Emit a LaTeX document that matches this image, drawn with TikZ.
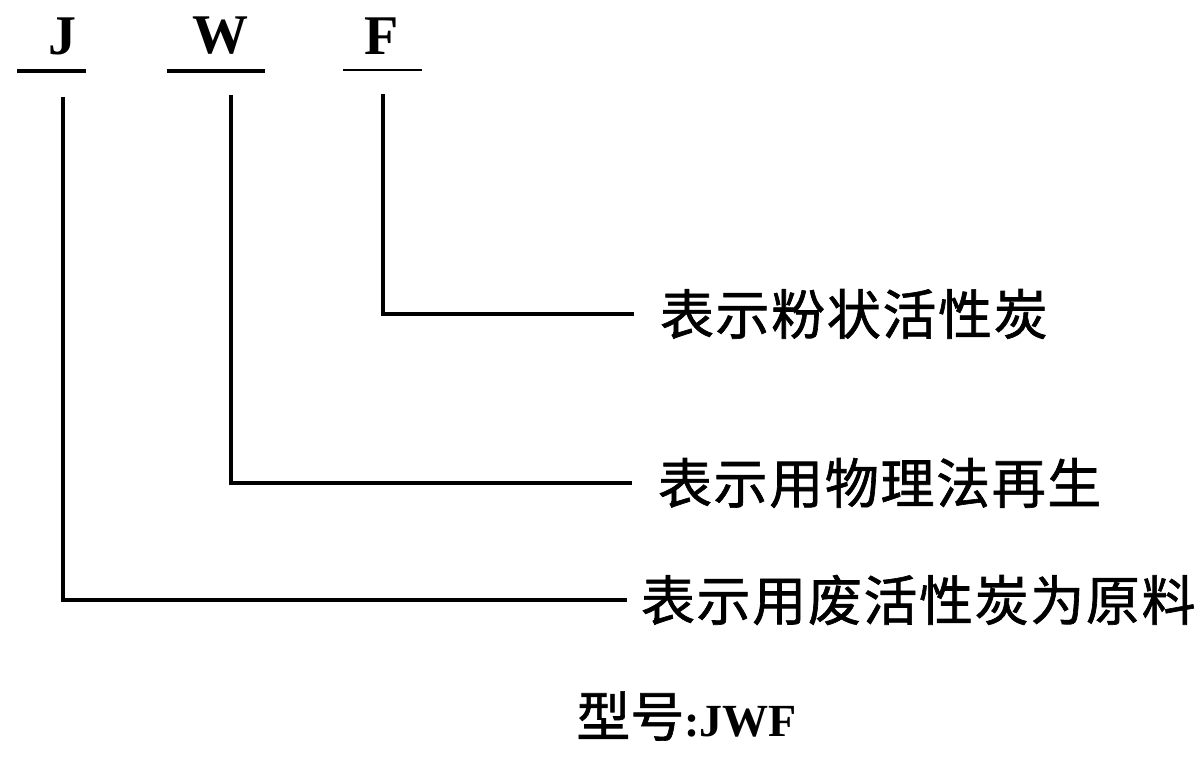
\documentclass[tikz,border=0pt]{standalone}
\usepackage{fontspec}
\setmainfont{Liberation Serif}
\newfontfamily\cjk[LetterSpace=3,FakeBold=1.2]{Noto Sans CJK SC}
\newfontfamily\cjkb[FakeBold=1.2]{Noto Sans CJK SC}
\begin{document}
\begin{tikzpicture}[x=0.5pt,y=-0.5pt,
  lat/.style={font=\fontsize{28pt}{30pt}\selectfont\bfseries, inner sep=0pt},
  lbl/.style={font=\fontsize{27pt}{28pt}\selectfont\cjk, inner sep=0pt, outer sep=13pt, anchor=west},
  ln/.style={line width=1.6pt},
  ul/.style={line width=1.8pt}]
\useasboundingbox (0,0) rectangle (1200,765);
% code letters
\node[lat] (J) at (62,36) {J};
\node[lat] (W) at (220,36) {W};
\node[lat] (F) at (382,36) {F};
% underlines
\coordinate (Ja) at (17,71);  \coordinate (Jb) at (86,71);
\coordinate (Wa) at (167,71); \coordinate (Wb) at (265,71);
\coordinate (Fa) at (343,70); \coordinate (Fb) at (422,70);
\draw[ul] (Ja) -- (Jb);
\draw[ul] (Wa) -- (Wb);
\draw[line width=1.1pt] (Fa) -- (Fb);
% leader tops
\coordinate (Jt) at (63,97);
\coordinate (Wt) at (231,95);
\coordinate (Ft) at (383,94);
% labels
\node[lbl] (lF) at (634,314) {表示粉状活性炭};
\node[lbl] (lW) at (632,483) {表示用物理法再生};
\node[lbl, outer sep=7pt] (lJ) at (627,600) {表示用废活性炭为原料};
\node[anchor=west, inner sep=0pt] (model) at (576,716)
  {{\fontsize{27pt}{28pt}\selectfont\cjkb 型号}{\fontsize{23pt}{24pt}\selectfont\bfseries:JWF}};
% connectors
\draw[ln] (Ft) |- (lF.west);
\draw[ln] (Wt) |- (lW.west);
\draw[ln] (Jt) |- (lJ.west);
\end{tikzpicture}
\end{document}
